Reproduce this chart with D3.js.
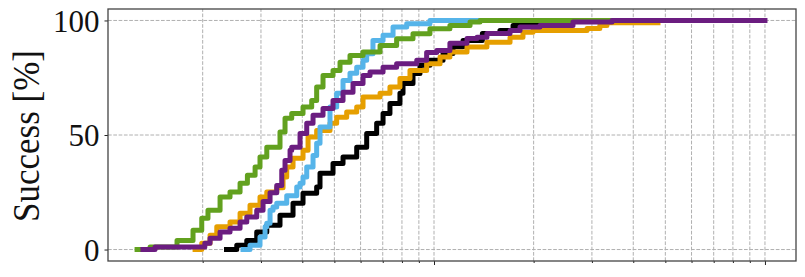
<!DOCTYPE html>
<html>
<head>
<meta charset="utf-8">
<script src="https://cdn.jsdelivr.net/npm/d3@7"></script>
<style>
  body { margin: 0; background: #fff; }
  svg text { font-family: "Liberation Serif", "DejaVu Serif", serif; fill: #111; }
</style>
</head>
<body>
<svg id="chart"></svg>
<script>
// success curves: [time, percent solved], drawn as steps
var black = [[2.36,0],[2.535,1.9],[2.718,4],[2.913,7.7],[3.124,10.6],[3.425,15],[3.75,20.2],[4.02,24.6],[4.42,27.3],[4.524,33.3],[4.953,37.6],[5.31,40.4],[5.84,44.7],[6.26,50.7],[6.71,55.1],[7.015,59.4],[7.36,63.8],[7.89,68.2],[8.06,72.5],[8.64,76.9],[9.07,80.4],[9.72,82.6],[10.65,85.6],[11.41,88.5],[12.24,91.3],[14.0,94.3],[15.82,95.6],[17.33,97.8],[19.1,98.7],[24,100],[30,100]]
var orange = [[1.897,0],[1.987,2.7],[2.105,6.2],[2.206,9.9],[2.419,12],[2.594,15.8],[2.78,19.3],[2.98,22.9],[3.124,25.1],[3.348,27],[3.498,31.7],[3.589,36],[3.75,39.8],[4.02,43.3],[4.163,49.1],[4.42,52],[4.85,55.1],[5.08,57.8],[5.447,60],[5.84,62.2],[6.103,66.6],[6.87,68.2],[7.36,70.9],[7.89,74.7],[8.46,78.2],[9.5,81.1],[10.43,84],[11.17,86.2],[12.58,88.4],[14.45,90.5],[16.97,92.7],[18.57,94.9],[19.91,95.6],[29,96.5],[31.7,97.8],[33.3,99],[47.5,99]]
var skyblue = [[2.648,0],[2.78,1.9],[2.98,5.5],[3.087,9.9],[3.124,11.5],[3.196,17.1],[3.263,18.6],[3.348,20.2],[3.589,23.5],[3.848,27.3],[3.937,28.9],[4.02,31.7],[4.125,36],[4.31,41.1],[4.42,46.4],[4.524,53.5],[4.85,62.2],[5.08,68.2],[5.31,73.8],[5.574,77],[5.84,79.6],[6.103,82.6],[6.26,85.5],[6.54,91.3],[7.015,93.5],[7.52,97.1],[8.27,98.6],[9.72,100],[14,100]]
var green = [[1.267,0],[1.387,1.1],[1.673,4],[1.87,8.4],[1.987,13.7],[2.075,17.1],[2.257,22.9],[2.419,25.1],[2.594,28.9],[2.73,32.4],[2.88,36],[2.98,40.4],[3.124,44.7],[3.425,51.3],[3.547,57.3],[3.716,59.4],[4.02,62.2],[4.27,65.1],[4.42,70.9],[4.62,76],[4.953,78.2],[5.2,81.8],[5.574,84.7],[6.103,86.2],[6.87,89.1],[7.71,92],[8.64,94.2],[9.72,96.4],[11.17,97.8],[12.85,99.3],[13.77,100],[34.43,100]]
var purple = [[1.32,0],[1.436,1.1],[2.03,2.7],[2.105,4.9],[2.257,7.7],[2.419,9.3],[2.594,12],[2.718,14.2],[2.913,17.1],[3.044,21],[3.196,24.8],[3.348,28],[3.467,34.6],[3.547,38.9],[3.673,43.3],[3.716,44.7],[3.937,50.7],[4.125,55.1],[4.31,58.6],[4.62,61.6],[4.953,65.1],[5.31,68.7],[5.692,72.5],[6.103,76],[6.407,77.5],[7.015,79.6],[7.71,81.1],[8.87,82.6],[9.5,86],[10.19,86.9],[11.17,90],[12.58,92.1],[13.49,92.7],[14.45,94.3],[16.97,95.6],[18.19,97.1],[20.9,97.8],[26.3,99.3],[34.5,100],[100,100]]

var seriesNames = ["black", "orange", "skyblue", "green", "purple"]
var seriesData = [black, orange, skyblue, green, purple]
var seriesColors = ["#000000", "#E69F00", "#56B4E9", "#62A11F", "#6B1D80"]

var yTicks = [0, 50, 100]
var xMajor = [1, 10, 100]
var xMinor = [2, 3, 4, 5, 6, 7, 8, 9, 20, 30, 40, 50, 60, 70, 80, 90]

var width = 805, height = 277
var margin = {top: 9, right: 9, bottom: 16, left: 108}

var svg = d3.select("#chart").attr("width", width).attr("height", height)

var x = d3.scaleLog()
  .domain([1.035, 124.1])
  .range([margin.left, width - margin.right])

var y = d3.scaleLinear()
  .domain([-5, 105])
  .range([height - margin.bottom, margin.top])

var grid = svg.append("g")
  .attr("stroke", "#b0b0b0")
  .attr("stroke-width", 1)
  .attr("stroke-dasharray", "3.7,1.6")

grid.selectAll(".gx").data(xMajor.concat(xMinor).filter(d => d >= x.domain()[0]))
  .enter().append("line")
  .attr("x1", d => x(d)).attr("x2", d => x(d))
  .attr("y1", y.range()[0]).attr("y2", y.range()[1])

grid.selectAll(".gy").data(yTicks)
  .enter().append("line")
  .attr("x1", x.range()[0]).attr("x2", x.range()[1])
  .attr("y1", d => y(d)).attr("y2", d => y(d))

var line = d3.line()
  .x(d => x(d[0]))
  .y(d => y(d[1]))
  .curve(d3.curveStepAfter)

svg.append("g").selectAll("path").data(seriesData)
  .enter().append("path")
  .attr("class", (d, i) => "series " + seriesNames[i])
  .attr("d", line)
  .attr("fill", "none")
  .attr("stroke", (d, i) => seriesColors[i])
  .attr("stroke-width", 5)
  .attr("stroke-linecap", "square")
  .attr("stroke-linejoin", "round")

// axes: major ticks longer than minor, no labels on x
var xAxisMajor = d3.axisBottom(x).tickValues(xMajor.filter(d => d >= x.domain()[0])).tickSize(4).tickFormat("")
var xAxisMinor = d3.axisBottom(x).tickValues(xMinor).tickSize(2).tickFormat("")

var bottom = y.range()[0]
svg.append("g").attr("transform", `translate(0,${bottom})`).call(xAxisMajor)
svg.append("g").attr("transform", `translate(0,${bottom})`).call(xAxisMinor)

var yAxis = d3.axisLeft(y).tickValues(yTicks).tickSize(3.5).tickPadding(5)
var yg = svg.append("g").attr("transform", `translate(${margin.left},0)`).call(yAxis)
yg.selectAll("text").attr("font-size", 31).style("font-size", "31px").attr("dy", "0.34em")

svg.selectAll(".domain").remove()
svg.selectAll(".tick line").attr("stroke", "#222").attr("stroke-width", 1)

svg.append("rect")
  .attr("x", x.range()[0]).attr("y", y.range()[1])
  .attr("width", x.range()[1] - x.range()[0])
  .attr("height", y.range()[0] - y.range()[1])
  .attr("fill", "none")
  .attr("stroke", "#444")
  .attr("stroke-width", 1.3)

svg.append("text")
  .attr("transform", `translate(39,136) rotate(-90)`)
  .attr("text-anchor", "middle")
  .attr("font-size", 37)
  .style("font-size", "37px")
  .attr("textLength", 172)
  .attr("lengthAdjust", "spacingAndGlyphs")
  .text("Success [%]")
</script>
</body>
</html>
